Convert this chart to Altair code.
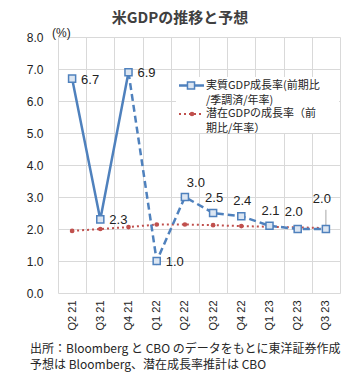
import altair as alt
import pandas as pd

categories = ["Q2 21", "Q3 21", "Q4 21", "Q1 22", "Q2 22", "Q3 22", "Q4 22", "Q1 23", "Q2 23", "Q3 23"]
real_gdp = [6.7, 2.3, 6.9, 1.0, 3.0, 2.5, 2.4, 2.1, 2.0, 2.0]
potential_gdp = [1.94, 2.00, 2.06, 2.14, 2.14, 2.12, 2.09, 2.07, 2.05, 2.03]
n_actual = 3  # first three quarters are actual, the rest forecast

title_text = "米GDPの推移と予想"
unit_text = "(%)"
legend_real = ["実質GDP成長率(前期比", "/季調済/年率)"]
legend_pot = ["潜在GDPの成長率（前", "期比/年率）"]
footer = ["出所：Bloomberg と CBO のデータをもとに東洋証券作成",
          "予想は Bloomberg、潜在成長率推計は CBO"]

df = pd.DataFrame({
    "q": categories,
    "real": real_gdp,
    "pot": potential_gdp,
    "i": list(range(len(categories))),
})
df["solid"] = df["i"] < n_actual
df["dashed"] = df["i"] >= n_actual - 1
one = pd.DataFrame({"k": [0]})

BLUE = "#4f81bd"
RED = "#c0504d"
LAT = "Liberation Sans"
JP = "Noto Sans CJK JP"

xenc = alt.X("q:N", sort=categories, bandPosition=0.5,
             scale=alt.Scale(type="band", domain=categories, paddingInner=0, paddingOuter=0),
             axis=alt.Axis(title=None, tickBand="extent", grid=True, ticks=False, domain=False,
                           labelAngle=270, labelFontSize=11, labelFont=LAT, labelColor="#222",
                           labelPadding=7, gridColor="#d9d9d9"))
yscale = alt.Scale(domain=[0, 8], nice=False)
yaxis = alt.Axis(title=None, values=[0, 1, 2, 3, 4, 5, 6, 7, 8], format=".1f", grid=True,
                 ticks=False, domain=False, labelFontSize=12, labelFont=LAT, labelColor="#222",
                 labelPadding=15, gridColor="#d9d9d9", labelOverlap=False)

def Y(field):
    return alt.Y(field, scale=yscale, axis=yaxis)

base = alt.Chart(df)

pot_line = base.mark_line(color=RED, strokeWidth=2, strokeDash=[2, 3]).encode(
    x=xenc, y=Y("pot:Q"))
pot_pts = base.mark_point(shape="circle", filled=True, color=RED, size=22, opacity=1).encode(
    x=xenc, y=Y("pot:Q"))

solid = base.transform_filter("datum.solid").mark_line(color=BLUE, strokeWidth=2.5).encode(
    x=xenc, y=Y("real:Q"))
dashed = base.transform_filter("datum.dashed").mark_line(
    color=BLUE, strokeWidth=2.5, strokeDash=[7, 4]).encode(
    x=xenc, y=Y("real:Q"))
pts = base.mark_point(shape="square", filled=True, fill="#dce6f2", stroke=BLUE,
                      strokeWidth=1.5, size=50, opacity=1).encode(
    x=xenc, y=Y("real:Q"))

def lbl(cats, **kw):
    return base.transform_filter(alt.FieldOneOfPredicate(field="q", oneOf=cats)).mark_text(
        font=LAT, fontSize=13, color="#222", **kw).encode(
        x=xenc, y=Y("real:Q"), text=alt.Text("real:Q", format=".1f"))

labels = [
    lbl(["Q2 21", "Q3 21", "Q4 21", "Q1 22"], align="left", dx=9, dy=1),
    lbl(["Q2 22"], align="center", dx=11, dy=-14),
    lbl(["Q3 22", "Q4 22", "Q1 23"], align="center", dx=1, dy=-15),
    lbl(["Q2 23"], align="center", dx=-4, dy=-17),
    lbl(["Q3 23"], align="center", dx=-4, dy=-30),
]

leader = base.transform_filter(alt.FieldEqualPredicate(field="q", equal="Q3 23")).mark_rule(
    color="#a6a6a6", strokeWidth=1).encode(
    x=xenc, y=Y("real:Q"), y2=alt.datum(2.6))

# legend
c1 = alt.Chart(one)
leg_bg = c1.mark_rect(color="white").encode(
    x=alt.value(118), x2=alt.value(281), y=alt.value(40), y2=alt.value(96))
leg_l1 = c1.mark_rule(color=BLUE, strokeWidth=2.5).encode(
    x=alt.value(121), x2=alt.value(146), y=alt.value(48.5))
leg_p1 = c1.mark_point(shape="square", filled=True, fill="#dce6f2", stroke=BLUE,
                       strokeWidth=1.5, size=50, opacity=1).encode(
    x=alt.value(133), y=alt.value(48.5))
leg_l2 = c1.mark_rule(color=RED, strokeWidth=2, strokeDash=[2, 3]).encode(
    x=alt.value(121), x2=alt.value(146), y=alt.value(77))
leg_p2 = c1.mark_point(shape="circle", filled=True, color=RED, size=22, opacity=1).encode(
    x=alt.value(134), y=alt.value(77))

def txt(t, x, y, size, font=JP, weight="normal", align="left", color="#262626"):
    return c1.mark_text(text=t, font=font, fontSize=size, fontWeight=weight,
                        align=align, baseline="middle", color=color).encode(
        x=alt.value(x), y=alt.value(y))

texts = [
    txt(legend_real[0], 148, 48.5, 11),
    txt(legend_real[1], 148, 63.5, 11),
    txt(legend_pot[0], 148, 77, 11),
    txt(legend_pot[1], 148, 91.5, 11),
    txt(title_text, 122, -19.5, 15, weight="bold", align="center", color="#404040"),
    txt(unit_text, -6, -4, 12, font=LAT),
    txt(footer[0], -28, 312, 12),
    txt(footer[1], -28, 328, 12),
]

chart = alt.layer(
    pot_line, leg_bg, leader, pot_pts, solid, dashed, pts, *labels,
    leg_l1, leg_p1, leg_l2, leg_p2, *texts
).properties(
    width=282, height=256,
    padding={"left": 50, "top": 29, "right": 11, "bottom": 85},
    autosize=alt.AutoSizeParams(type="none"),
).configure_view(stroke=None)

chart.save("out.html", embed_options={"renderer": "svg", "actions": False})
